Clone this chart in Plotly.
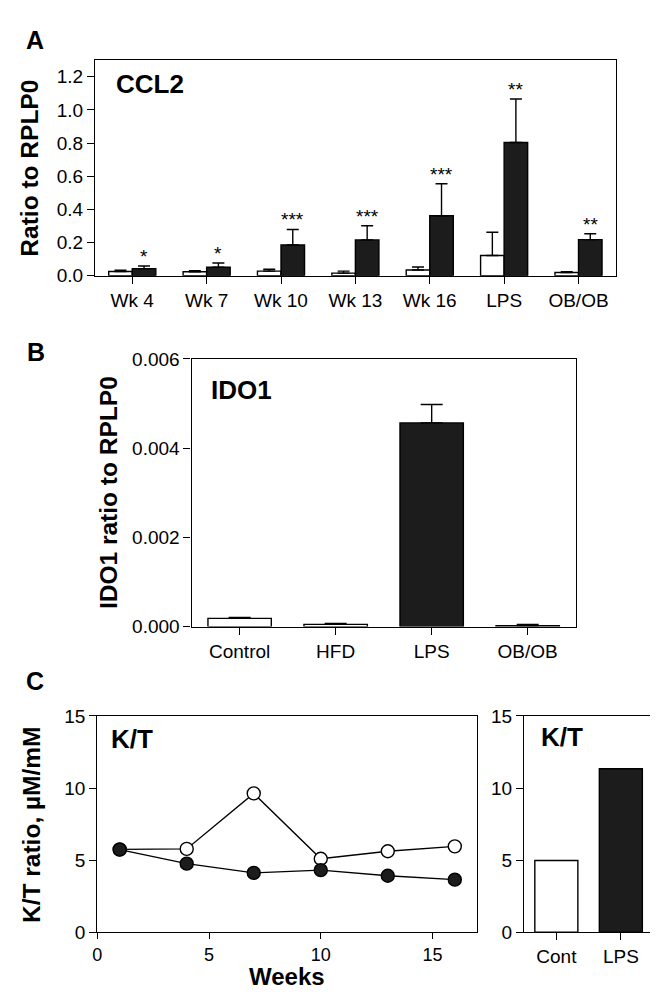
import plotly.graph_objects as go

# ---------------- data ----------------
# Panel A: CCL2
a_categories = ["Wk 4", "Wk 7", "Wk 10", "Wk 13", "Wk 16", "LPS", "OB/OB"]
a_control = [0.026, 0.024, 0.028, 0.016, 0.035, 0.122, 0.020]
a_control_err = [0.007, 0.007, 0.011, 0.012, 0.018, 0.140, 0.005]
a_treated = [0.043, 0.051, 0.185, 0.216, 0.362, 0.803, 0.218]
a_treated_err = [0.016, 0.026, 0.094, 0.085, 0.193, 0.263, 0.035]
a_stars = ["*", "*", "***", "***", "***", "**", "**"]

# Panel B: IDO1
b_categories = ["Control", "HFD", "LPS", "OB/OB"]
b_values = [0.000183, 0.00005, 0.004566, 0.00002]
b_err = [0.000023, 0.00002, 0.000414, 0.000025]
b_filled = [False, False, True, False]

# Panel C: K/T ratio
c_weeks = [1, 4, 7, 10, 13, 16]
c_control = [5.75, 5.78, 9.63, 5.10, 5.62, 5.96]
c_treated = [5.73, 4.76, 4.12, 4.31, 3.92, 3.65]
c2_categories = ["Cont", "LPS"]
c2_values = [4.98, 11.34]
c2_filled = [False, True]

# ---------------- style ----------------
W, H = 658, 995
BLACK = "#1c1c1c"
FONT = "Liberation Sans, Arial, sans-serif"
TICK = dict(family=FONT, size=19, color="black")
LW = 1.4


def px_x(x):
    return x / W


def px_y(y):
    return 1 - y / H


fig = go.Figure()

# Panel A bars
fig.add_trace(go.Bar(
    x=a_categories, y=a_control, marker=dict(color="white", line=dict(color="black", width=LW)),
    error_y=dict(type="data", symmetric=False, array=a_control_err, arrayminus=[0] * 7,
                 color="black", thickness=LW, width=6),
    xaxis="x", yaxis="y", showlegend=False))
fig.add_trace(go.Bar(
    x=a_categories, y=a_treated, marker=dict(color=BLACK, line=dict(color="black", width=LW)),
    error_y=dict(type="data", symmetric=False, array=a_treated_err, arrayminus=[0] * 7,
                 color="black", thickness=LW, width=6),
    xaxis="x", yaxis="y", showlegend=False))

# Panel B bars
fig.add_trace(go.Bar(
    x=b_categories, y=b_values, width=0.66,
    marker=dict(color=[BLACK if f else "white" for f in b_filled], line=dict(color="black", width=LW)),
    error_y=dict(type="data", symmetric=False, array=b_err, arrayminus=[0] * 4,
                 color="black", thickness=LW, width=11),
    xaxis="x2", yaxis="y2", showlegend=False))

# Panel C lines
fig.add_trace(go.Scatter(
    x=c_weeks, y=c_control, mode="lines+markers",
    line=dict(color="black", width=LW),
    marker=dict(size=13, color="white", line=dict(color="black", width=LW)),
    xaxis="x3", yaxis="y3", showlegend=False))
fig.add_trace(go.Scatter(
    x=c_weeks, y=c_treated, mode="lines+markers",
    line=dict(color="black", width=LW),
    marker=dict(size=13, color=BLACK, line=dict(color="black", width=LW)),
    xaxis="x3", yaxis="y3", showlegend=False))

# Panel C right bars
fig.add_trace(go.Bar(
    x=c2_categories, y=c2_values, width=0.667,
    marker=dict(color=[BLACK if f else "white" for f in c2_filled], line=dict(color="black", width=LW)),
    xaxis="x4", yaxis="y4", showlegend=False))

axis_common = dict(showline=True, linecolor="black", linewidth=LW, mirror=True,
                   ticks="outside", ticklen=7, tickwidth=LW, tickcolor="black",
                   showgrid=False, zeroline=False, tickfont=TICK)
axis_c_x = dict(axis_common, ticklen=6, tickfont=dict(family=FONT, size=18, color="black"))

fig.update_layout(
    width=W, height=H, margin=dict(l=0, r=0, t=0, b=0),
    paper_bgcolor="white", plot_bgcolor="white",
    barmode="group", bargap=0.367, bargroupgap=0,
    font=dict(family=FONT, color="black"),
    xaxis=dict(domain=[px_x(82.7), px_x(607.3)], anchor="y", range=[-0.5, 6.5], **axis_common),
    yaxis=dict(domain=[px_y(263.3), px_y(42.7)], anchor="x", range=[0, 1.302],
               tickvals=[0, 0.2, 0.4, 0.6, 0.8, 1.0, 1.2], tickformat=".1f", **axis_common),
    xaxis2=dict(domain=[px_x(180), px_x(567)], anchor="y2", range=[-0.5, 3.5], **axis_common),
    yaxis2=dict(domain=[px_y(621.7), px_y(348.3)], anchor="x2", range=[0, 0.006],
                tickvals=[0, 0.002, 0.004, 0.006], tickformat=".3f", **axis_common),
    xaxis3=dict(domain=[px_x(85), px_x(467.7)], anchor="y3", range=[0, 17],
                tickvals=[0, 5, 10, 15], **axis_c_x),
    yaxis3=dict(domain=[px_y(934), px_y(713)], anchor="x3", range=[0, 15],
                tickvals=[0, 5, 10, 15], **axis_common),
    xaxis4=dict(domain=[px_x(515), px_x(645)], anchor="y4", range=[-0.5, 1.5], **axis_common),
    yaxis4=dict(domain=[px_y(934), px_y(713)], anchor="x4", range=[0, 15],
                tickvals=[0, 5, 10, 15], **axis_common),
)

ann = []
# significance stars above black bars in panel A
for i, (v, e, s) in enumerate(zip(a_treated, a_treated_err, a_stars)):
    ann.append(dict(x=i + 0.158, y=v + e, xref="x", yref="y", text=s, showarrow=False,
                    yanchor="bottom", yshift=-3, font=dict(family=FONT, size=19, color="black")))


def label(text, x, y, size, bold=True, xanchor="center", angle=0):
    ann.append(dict(x=px_x(x), y=px_y(y), xref="paper", yref="paper",
                    text=f"<b>{text}</b>" if bold else text, showarrow=False,
                    xanchor=xanchor, yanchor="middle", textangle=angle,
                    font=dict(family=FONT, size=size, color="black")))


# panel letters
label("A", 22.5, 22.5, 25)
label("B", 23, 341.5, 25)
label("C", 22.5, 677.5, 25)
# inner titles
label("CCL2", 101.7, 67, 26, xanchor="left")
label("IDO1", 197.6, 380, 26, xanchor="left")
label("K/T", 97, 737, 26, xanchor="left")
label("K/T", 530, 735, 26, xanchor="left")
# axis titles
label("Ratio to RPLP0", 17, 153, 24.5, angle=-90)
label("IDO1 ratio to RPLP0", 96, 485, 24.5, angle=-90)
label("K/T ratio, µM/mM", 18, 823.5, 24.5, angle=-90)
label("Weeks", 276, 979, 24)

fig.update_layout(annotations=ann)
fig.write_html("out.html")
